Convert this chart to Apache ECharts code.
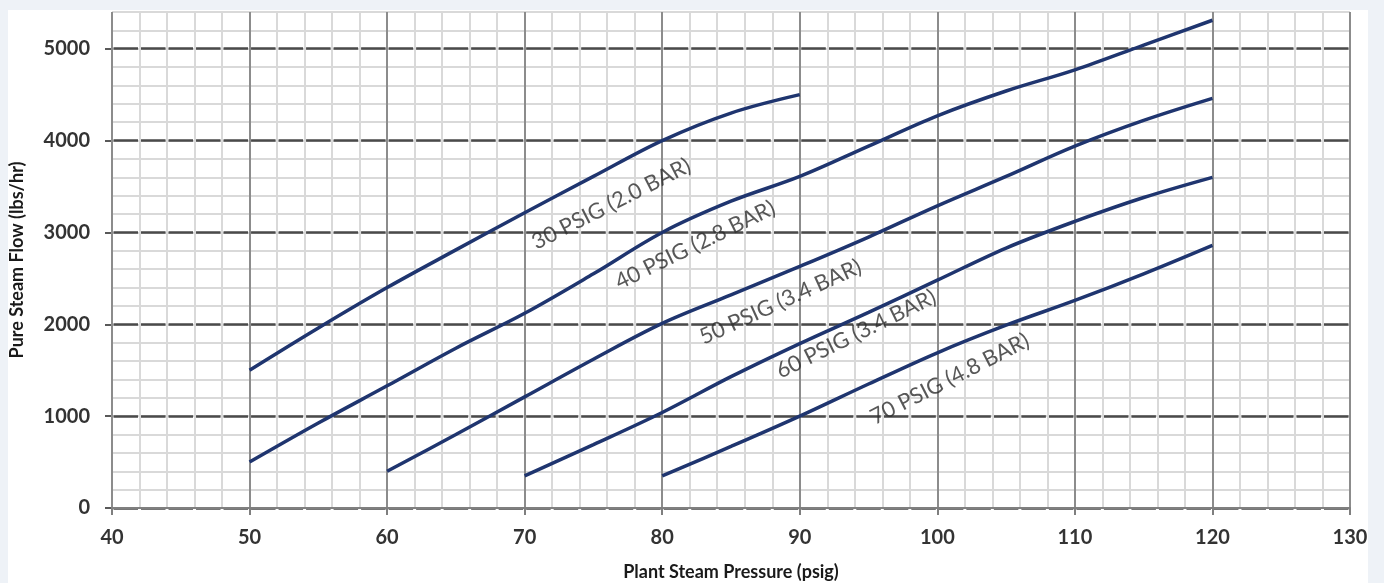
<!DOCTYPE html>
<html><head><meta charset="utf-8">
<script src="https://cdn.jsdelivr.net/npm/echarts@6/dist/echarts.min.js"></script>
<style>
html,body{margin:0;padding:0;background:#eef2f7;width:1384px;height:583px;overflow:hidden}
#panel{position:absolute;left:8px;top:10px;width:1360px;height:573px;background:#fff}
#chart{position:absolute;left:0;top:0;width:1384px;height:583px}
</style></head><body>
<div id="panel"></div><div id="chart"></div>
<script>
// Plant steam pressure (psig) and pure steam flow (lbs/hr) per curve
const seriesNames = ['30 PSIG (2.0 BAR)', '40 PSIG (2.8 BAR)', '50 PSIG (3.4 BAR)', '60 PSIG (3.4 BAR)', '70 PSIG (4.8 BAR)'];
const press30 = [50, 55, 60, 65, 70, 75, 80, 85, 90];
const flow30  = [1500, 1960, 2400, 2810, 3215, 3610, 4000, 4300, 4500];
const press40 = [50, 55, 60, 65, 70, 75, 80, 85, 90, 95, 100, 105, 110, 115, 120];
const flow40  = [500, 925, 1330, 1740, 2120, 2550, 3000, 3340, 3610, 3940, 4270, 4540, 4770, 5040, 5310];
const press50 = [60, 65, 70, 75, 80, 85, 90, 95, 100, 105, 110, 115, 120];
const flow50  = [400, 800, 1210, 1620, 2010, 2320, 2630, 2950, 3290, 3610, 3940, 4220, 4460];
const press60 = [70, 75, 80, 85, 90, 95, 100, 105, 110, 115, 120];
const flow60  = [350, 690, 1040, 1430, 1790, 2130, 2480, 2830, 3120, 3380, 3600];
const press70 = [80, 85, 90, 95, 100, 105, 110, 115, 120];
const flow70  = [350, 670, 1000, 1350, 1690, 1990, 2260, 2550, 2860];
const xTicks = [40, 50, 60, 70, 80, 90, 100, 110, 120, 130];
const yTicks = [0, 1000, 2000, 3000, 4000, 5000];
// curve annotations (data coordinates of label centres, text angle)
const labelPress = [76.3, 82.4, 88.6, 94.1, 100.9];
const labelFlow  = [3310, 2863, 2243, 1894, 1404];
const labelAngle = [27, 26, 24.5, 26, 27];

const pressArr = [press30, press40, press50, press60, press70];
const flowArr = [flow30, flow40, flow50, flow60, flow70];

const chart = echarts.init(document.getElementById('chart'), null, {renderer: 'canvas'});
const FONT = 'Lato';
const lineColor = '#1f356f';
const minorStep = 1238 / 45; // px between minor vertical grid lines

const series = seriesNames.map((n, i) => ({
  type: 'line', name: n, xAxisIndex: 1, yAxisIndex: 0, z: 10,
  smooth: 0.35, showSymbol: false, symbol: 'none', silent: true,
  lineStyle: {color: lineColor, width: 3.5},
  data: pressArr[i].map((p, j) => [p, flowArr[i][j]])
}));
series.push({
  type: 'scatter', xAxisIndex: 1, yAxisIndex: 0, z: 11, symbolSize: 0, silent: true,
  data: seriesNames.map((n, i) => ({
    value: [labelPress[i], labelFlow[i]], name: n,
    label: {rotate: labelAngle[i]}
  })),
  label: {
    show: true, position: 'inside', formatter: p => p.name,
    fontFamily: FONT, fontSize: 22, color: '#2e2e2e', align: 'center', verticalAlign: 'middle'
  }
});

chart.setOption({
  animation: false,
  backgroundColor: 'transparent',
  grid: {left: 112, right: 34, top: 12, bottom: 75, containLabel: false, outerBoundsMode: 'none'},
  xAxis: [
    {type: 'value', gridIndex: 0, position: 'bottom', offset: 0, min: 40, max: 130, interval: 2, z: 2,
     axisLine: {show: false}, axisTick: {show: false}, axisLabel: {show: false},
     splitLine: {show: true, lineStyle: {color: '#d9d9d9', width: 2}}},
    {type: 'value', gridIndex: 0, position: 'bottom', offset: 0, min: 40, max: 130, interval: 10, z: 3,
     axisLine: {show: true, onZero: false, lineStyle: {color: '#7f7f7f', width: 2}},
     axisTick: {show: true, length: 7, lineStyle: {color: '#7f7f7f', width: 2}},
     axisLabel: {show: true, margin: 20, fontFamily: FONT, fontSize: 20, fontWeight: 'bold', color: '#333'},
     splitLine: {show: true, lineStyle: {color: '#8c8c8c', width: 2}},
     name: 'Plant Steam Pressure (psig)', nameLocation: 'middle', nameGap: 55,
     nameTextStyle: {fontFamily: FONT, fontSize: 18, fontWeight: 'bold', color: '#1a1a1a'}}
  ],
  yAxis: [
    {type: 'value', gridIndex: 0, position: 'left', offset: 0, min: 0, max: 5400, interval: 200, z: 0,
     axisLine: {show: false}, axisTick: {show: false}, axisLabel: {show: false},
     splitLine: {show: true, lineStyle: {color: '#d9d9d9', width: 2}}},
    {type: 'value', gridIndex: 0, position: 'left', offset: 0, min: 0, max: 5400, interval: 1000, z: 1,
     axisLine: {show: false},
     axisTick: {show: true, length: 7, customValues: yTicks, lineStyle: {color: '#595959', width: 2}},
     axisLabel: {show: true, margin: 22, fontFamily: FONT, fontSize: 20, customValues: yTicks,
       fontWeight: 'bold', color: '#333', formatter: v => String(v)},
     splitLine: {show: true, lineStyle: {color: '#4a4a4a', width: 2.5,
       type: [minorStep - 3, 3], dashOffset: minorStep - 1.5}},
     name: 'Pure Steam Flow (lbs/hr)', nameLocation: 'middle', nameGap: 86, nameRotate: 90,
     nameTextStyle: {fontFamily: FONT, fontSize: 18, fontWeight: 'bold', color: '#1a1a1a'}}
  ],
  series: series
});
</script>
</body></html>
